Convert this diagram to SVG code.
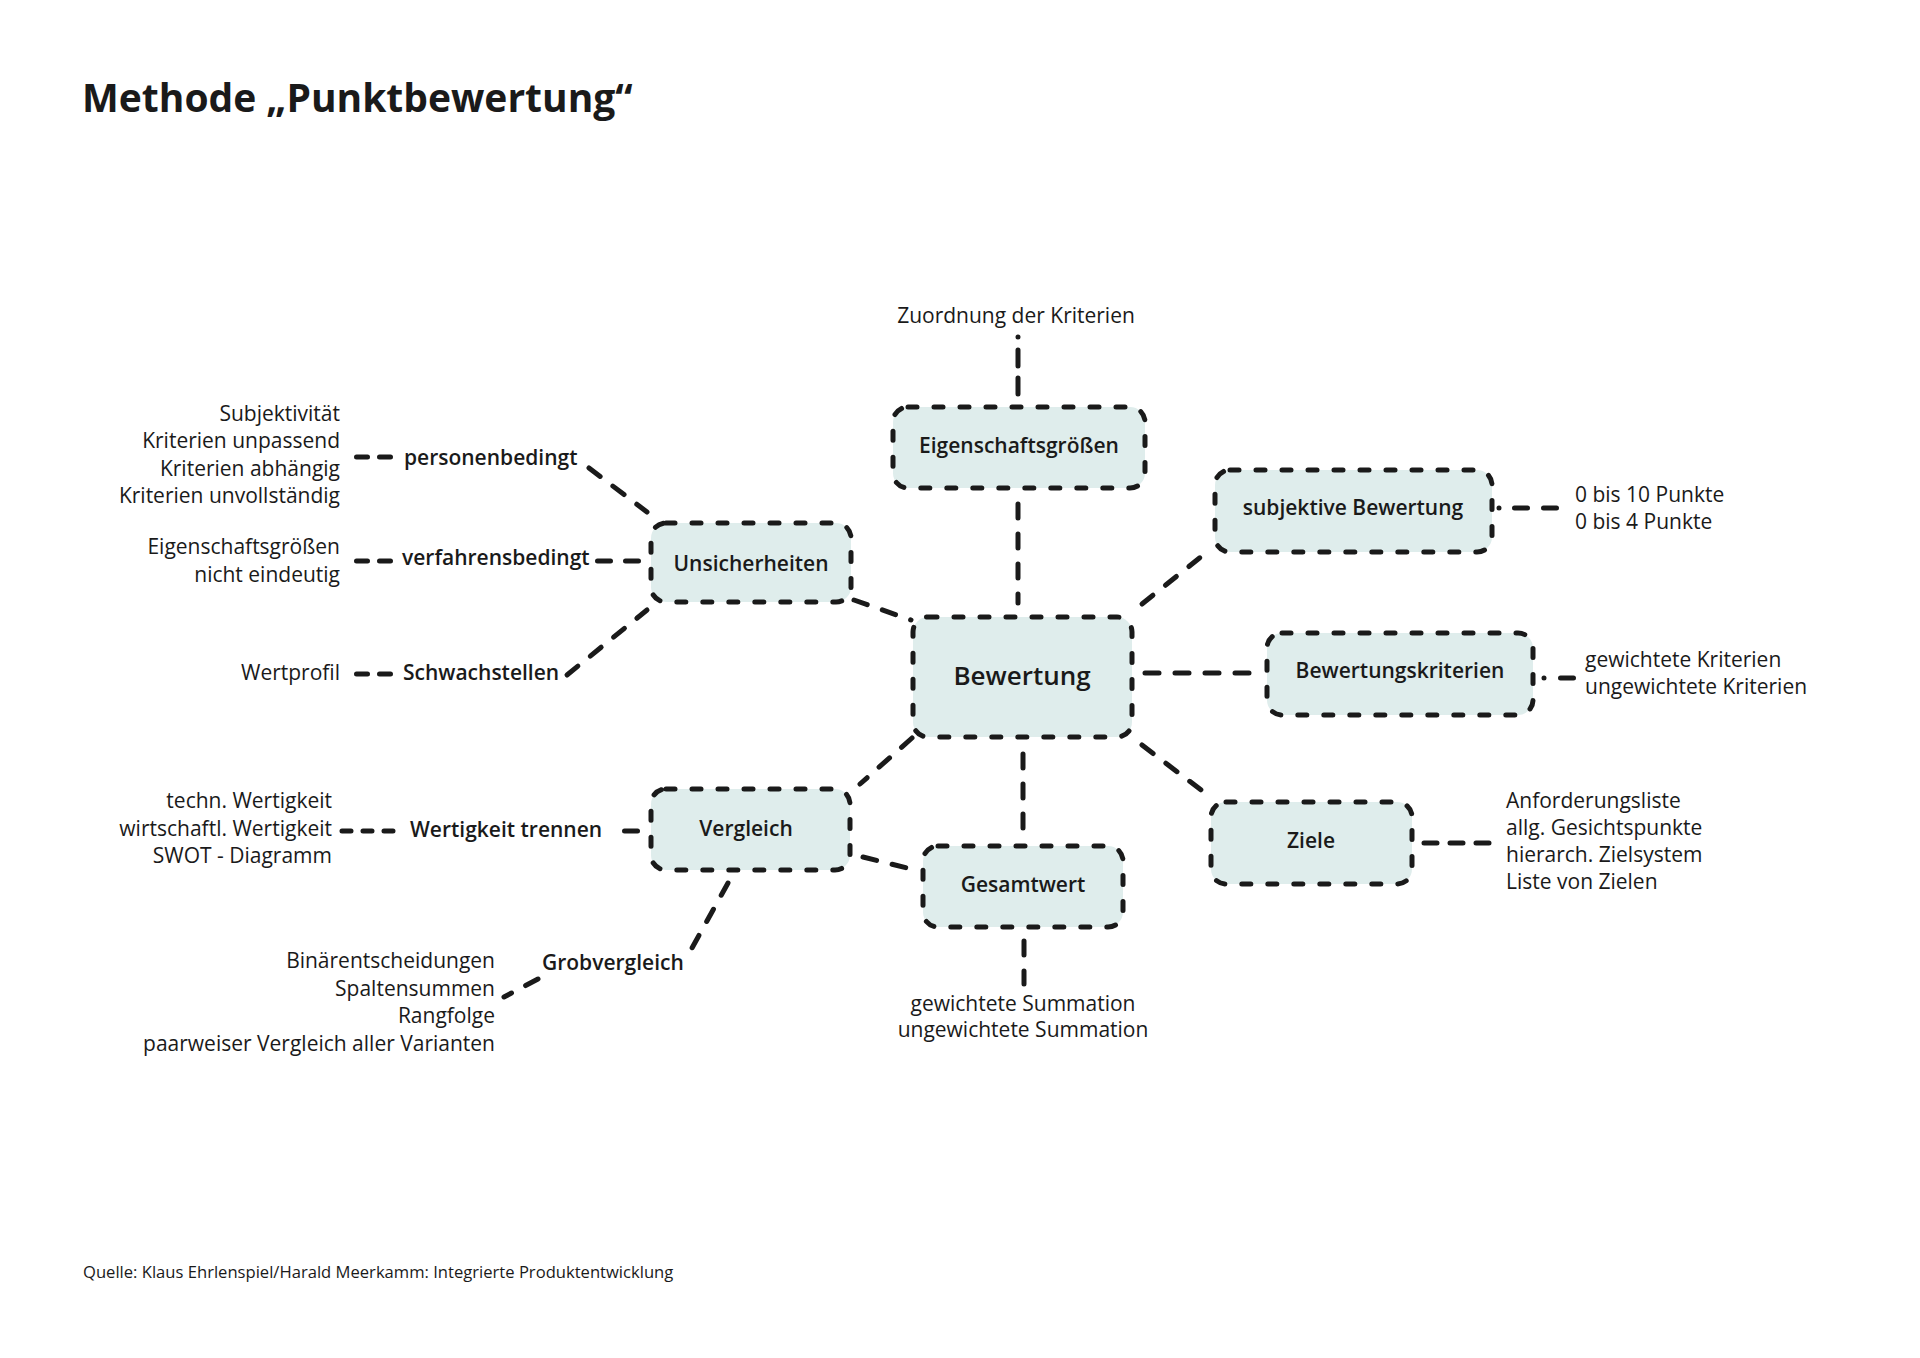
<svg xmlns="http://www.w3.org/2000/svg" width="1920" height="1358" viewBox="0 0 1920 1358">
<style>
text{font-family:"Open Sans","Noto Sans","DejaVu Sans",sans-serif;fill:#1a1a1a}
.t{font-size:21px}
.e{text-anchor:end}
.m{text-anchor:middle}
.b{font-size:21px;font-weight:600}
.box{fill:#dfedec;stroke:#1a1a1a;stroke-width:5;stroke-dasharray:9 17;stroke-linecap:round}
.c line,.c path{stroke:#1a1a1a;stroke-width:5;stroke-linecap:round;stroke-dasharray:14 16;fill:none}
</style>
<rect width="1920" height="1358" fill="#ffffff"/>
<text x="82" y="112" style="font-size:39px;font-weight:700">Methode „Punktbewertung“</text>

<g class="c" id="connectors">
<line x1="1018" y1="337" x2="1018" y2="397" style="stroke-dasharray:0 13 16 12 16 100"/>
<line x1="1018" y1="504" x2="1018" y2="603"/>
<line x1="589" y1="468" x2="647" y2="512"/>
<line x1="356.5" y1="457" x2="390.5" y2="457" style="stroke-dasharray:11 12"/>
<line x1="356.5" y1="561" x2="390.5" y2="561" style="stroke-dasharray:11 12"/>
<line x1="597.5" y1="561" x2="638.5" y2="561" style="stroke-dasharray:13 15"/>
<line x1="356.5" y1="674" x2="390.5" y2="674" style="stroke-dasharray:11 12"/>
<line x1="567" y1="675" x2="647" y2="610"/>
<line x1="854" y1="600" x2="911" y2="620"/>
<line x1="1142" y1="604" x2="1207" y2="552"/>
<line x1="1499" y1="508" x2="1557" y2="508" style="stroke-dasharray:0 15.5 13 16 13 100"/>
<line x1="1145" y1="673" x2="1262" y2="673"/>
<line x1="1544" y1="678" x2="1574" y2="678" style="stroke-dasharray:0 16.5 13 100"/>
<line x1="1142" y1="745" x2="1205" y2="793"/>
<line x1="1424" y1="843" x2="1489" y2="843" style="stroke-dasharray:13 13"/>
<line x1="1023" y1="754" x2="1023" y2="830"/>
<line x1="1024" y1="941" x2="1024" y2="984"/>
<line x1="912" y1="738" x2="860" y2="784"/>
<line x1="863" y1="857" x2="907" y2="868"/>
<line x1="624.5" y1="831" x2="637.5" y2="831"/>
<line x1="342" y1="831" x2="397" y2="831" style="stroke-dasharray:9 12"/>
<line x1="728" y1="883" x2="692" y2="948"/>
<line x1="538" y1="979" x2="504" y2="997"/>
</g>

<g id="node-eigenschaftsgroessen">
<rect class="box" x="893" y="407" width="252" height="81" rx="15"/>
<text class="b m" x="1019" y="453">Eigenschaftsgrößen</text>
</g>
<g id="node-bewertung">
<rect class="box" x="913" y="617" width="219" height="120" rx="15"/>
<text class="m" x="1022" y="685" style="font-size:26px;font-weight:600">Bewertung</text>
</g>
<g id="node-unsicherheiten">
<rect class="box" x="651" y="523" width="200" height="79" rx="15"/>
<text class="b m" x="751" y="571">Unsicherheiten</text>
</g>
<g id="node-subjektive-bewertung">
<rect class="box" x="1215" y="470" width="277" height="82" rx="15"/>
<text class="b m" x="1353" y="515">subjektive Bewertung</text>
</g>
<g id="node-bewertungskriterien">
<rect class="box" x="1267" y="633" width="266" height="82" rx="15"/>
<text class="b m" x="1400" y="678">Bewertungskriterien</text>
</g>
<g id="node-ziele">
<rect class="box" x="1211" y="802" width="201" height="82" rx="15"/>
<text class="b m" x="1311" y="848">Ziele</text>
</g>
<g id="node-vergleich">
<rect class="box" x="651" y="789" width="199" height="81" rx="15"/>
<text class="b m" x="746" y="836">Vergleich</text>
</g>
<g id="node-gesamtwert">
<rect class="box" x="923" y="846" width="200" height="81" rx="15"/>
<text class="b m" x="1023" y="892">Gesamtwert</text>
</g>

<g id="leaf-zuordnung">
<text class="t m" x="1016" y="323">Zuordnung der Kriterien</text>
</g>
<g id="label-personenbedingt">
<text class="b" x="404" y="465">personenbedingt</text>
</g>
<g id="leaf-personenbedingt">
<text class="t e" x="340" y="421">Subjektivität</text>
<text class="t e" x="340" y="448">Kriterien unpassend</text>
<text class="t e" x="340" y="476">Kriterien abhängig</text>
<text class="t e" x="340" y="503">Kriterien unvollständig</text>
</g>
<g id="label-verfahrensbedingt">
<text class="b" x="402" y="565">verfahrensbedingt</text>
</g>
<g id="leaf-verfahrensbedingt">
<text class="t e" x="340" y="554">Eigenschaftsgrößen</text>
<text class="t e" x="340" y="582">nicht eindeutig</text>
</g>
<g id="label-schwachstellen">
<text class="b" x="403" y="680">Schwachstellen</text>
</g>
<g id="leaf-schwachstellen">
<text class="t e" x="340" y="680">Wertprofil</text>
</g>
<g id="leaf-subjektive">
<text class="t" x="1575" y="502">0 bis 10 Punkte</text>
<text class="t" x="1575" y="529">0 bis 4 Punkte</text>
</g>
<g id="leaf-bewertungskriterien">
<text class="t" x="1585" y="667">gewichtete Kriterien</text>
<text class="t" x="1585" y="694">ungewichtete Kriterien</text>
</g>
<g id="leaf-ziele">
<text class="t" x="1506" y="808">Anforderungsliste</text>
<text class="t" x="1506" y="835">allg. Gesichtspunkte</text>
<text class="t" x="1506" y="862">hierarch. Zielsystem</text>
<text class="t" x="1506" y="889">Liste von Zielen</text>
</g>
<g id="leaf-gesamtwert">
<text class="t m" x="1023" y="1011">gewichtete Summation</text>
<text class="t m" x="1023" y="1037">ungewichtete Summation</text>
</g>
<g id="label-wertigkeit">
<text class="b" x="410" y="837">Wertigkeit trennen</text>
</g>
<g id="leaf-wertigkeit">
<text class="t e" x="332" y="808">techn. Wertigkeit</text>
<text class="t e" x="332" y="836">wirtschaftl. Wertigkeit</text>
<text class="t e" x="332" y="863">SWOT - Diagramm</text>
</g>
<g id="label-grobvergleich">
<text class="b" x="542" y="970">Grobvergleich</text>
</g>
<g id="leaf-grobvergleich">
<text class="t e" x="495" y="968">Binärentscheidungen</text>
<text class="t e" x="495" y="996">Spaltensummen</text>
<text class="t e" x="495" y="1023">Rangfolge</text>
<text class="t e" x="495" y="1051">paarweiser Vergleich aller Varianten</text>
</g>

<text x="83" y="1278" style="font-size:16.6px">Quelle: Klaus Ehrlenspiel/Harald Meerkamm: Integrierte Produktentwicklung</text>
</svg>
